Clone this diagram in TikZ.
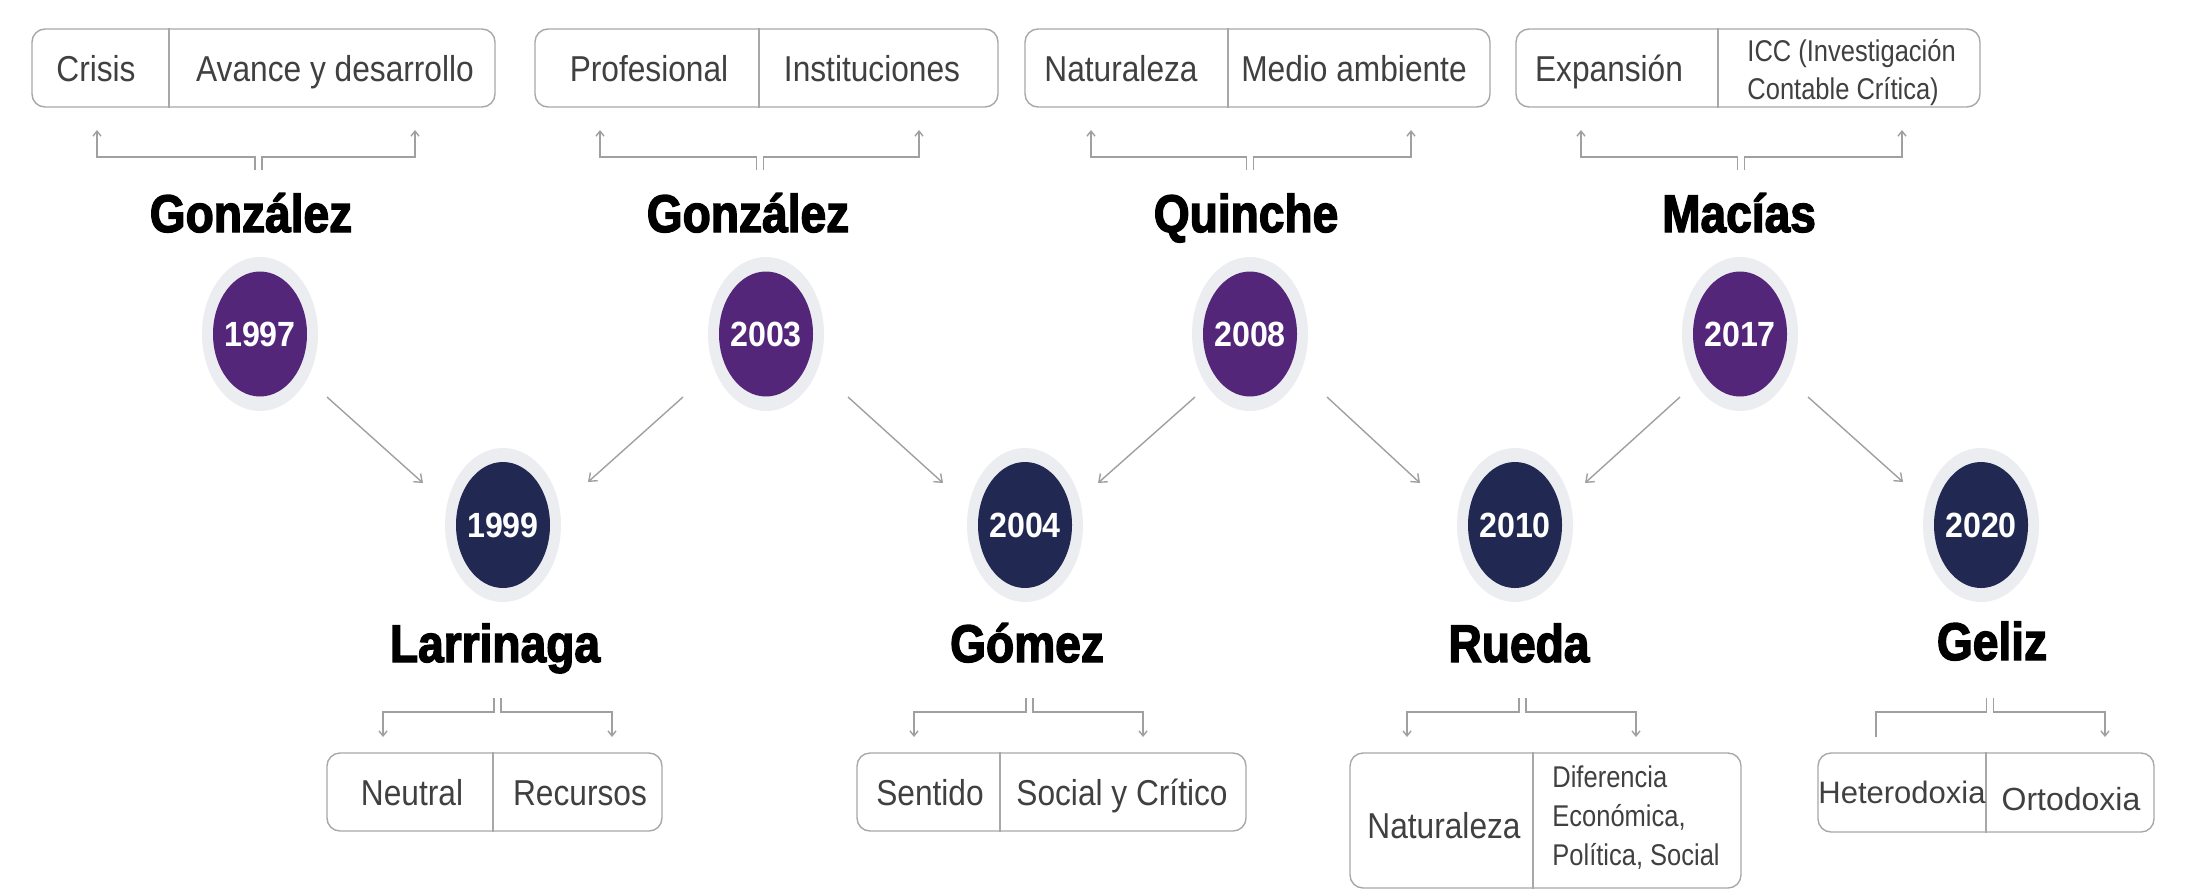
\documentclass[tikz,border=0pt]{standalone}
\usepackage{fontspec}
\setmainfont{Liberation Sans}
\newfontfamily\boxfont[FakeStretch=0.88]{Liberation Sans}
\newfontfamily\smallfont[FakeStretch=0.85]{Liberation Sans}
\newfontfamily\namefont[FakeStretch=0.87,FakeBold=2.5]{Liberation Sans}
\newfontfamily\yearfont[FakeStretch=0.92]{Liberation Sans}
\usetikzlibrary{shapes.geometric,arrows.meta,calc}
\definecolor{tlpurple}{HTML}{54267A}
\definecolor{tlnavy}{HTML}{212952}
\definecolor{halogray}{HTML}{ECEDF0}
\definecolor{cardgray}{HTML}{A8A8A8}
\definecolor{txtgray}{HTML}{404040}
\definecolor{arrgray}{HTML}{A0A0A0}
\begin{document}
\begin{tikzpicture}[x=0.5pt,y=-0.5pt,
  halo/.style={ellipse, fill=halogray, minimum width=58pt, minimum height=77pt, inner sep=0pt},
  topdot/.style={ellipse, fill=tlpurple, minimum width=47pt, minimum height=62.5pt, inner sep=0pt},
  botdot/.style={ellipse, fill=tlnavy, minimum width=47pt, minimum height=63pt, inner sep=0pt},
  yr/.style={text=white, font={\yearfont\bfseries\fontsize{17.5}{20}\selectfont}, inner sep=0pt},
  authname/.style={anchor=base, inner sep=0pt, font={\namefont\bfseries\fontsize{26.5}{30}\selectfont}},
  card/.style={draw=cardgray, line width=0.7pt, rounded corners=6.5pt, inner sep=0pt},
  divider/.style={draw=cardgray, line width=0.7pt},
  cell/.style={anchor=base, inner sep=0pt, text=txtgray, font={\boxfont\fontsize{18}{22}\selectfont}},
  multicell/.style={anchor=north west, inner sep=0pt, align=left, text=txtgray},
  conn/.style={draw=arrgray, line width=0.7pt, -{Straight Barb[length=3.5pt,width=5.5pt]}},
  brk/.style={draw=arrgray, line width=0.7pt, -{Straight Barb[length=2.5pt,width=4pt]}},
  brkplain/.style={draw=arrgray, line width=0.7pt}
]
\fill[white] (0,0) rectangle (2188,895);
\useasboundingbox (0,0) rectangle (2188,895);

% ---------- year ellipses ----------
\foreach \nm/\xx in {1997/260, 2003/766, 2008/1250, 2017/1740}{
  \node[halo] (h\nm) at (\xx,334) {};
  \node[topdot] (c\nm) at (\xx,334) {};
  \node[yr] (y\nm) at (c\nm) {\nm};
}
\foreach \nm/\xx in {1999/503, 2004/1025, 2010/1515, 2020/1981}{
  \node[halo] (h\nm) at (\xx,525) {};
  \node[botdot] (c\nm) at (\xx,525) {};
  \node[yr] (y\nm) at (c\nm) {\nm};
}

% ---------- names ----------
\node[authname] (n1) at (251,232) {González};
\node[authname] (n2) at (748,232) {González};
\node[authname] (n3) at (1246,232) {Quinche};
\node[authname] (n4) at (1739,232) {Macías};
\node[authname] (n5) at (495,662) {Larrinaga};
\node[authname] (n6) at (1027,662) {Gómez};
\node[authname] (n7) at (1519,662) {Rueda};
\node[authname] (n8) at (1992,660) {Geliz};

% ---------- cards (top) ----------
\node[card, minimum width=231.5pt, minimum height=39pt] (b1) at (263.5,68) {};
\node[card, minimum width=231.5pt, minimum height=39pt] (b2) at (766.5,68) {};
\node[card, minimum width=232.5pt, minimum height=39pt] (b3) at (1257.5,68) {};
\node[card, minimum width=232pt, minimum height=39pt] (b4) at (1748,68) {};
\draw[divider] ($(b1.north)+(-94.5,0)$) -- ($(b1.south)+(-94.5,0)$);
\draw[divider] ($(b2.north)+(-7.5,0)$) -- ($(b2.south)+(-7.5,0)$);
\draw[divider] ($(b3.north)+(-29.5,0)$) -- ($(b3.south)+(-29.5,0)$);
\draw[divider] ($(b4.north)+(-30,0)$) -- ($(b4.south)+(-30,0)$);

\node[cell] (t1a) at (96,81.5) {Crisis};
\node[cell] (t1b) at (335,81.5) {Avance y desarrollo};
\node[cell] (t2a) at (649,81.5) {Profesional};
\node[cell] (t2b) at (872,81.5) {Instituciones};
\node[cell] (t3a) at (1121,81.5) {Naturaleza};
\node[cell] (t3b) at (1354,81.5) {Medio ambiente};
\node[cell] (t4a) at (1609,81.5) {Expansión};
\node[multicell, font={\smallfont\fontsize{15}{19}\selectfont}] (t4b) at (1747,39) {ICC (Investigación\\Contable Crítica)};

% ---------- cards (bottom) ----------
\node[card, minimum width=167.5pt, minimum height=39pt] (b5) at (494.5,792) {};
\node[card, minimum width=194.5pt, minimum height=39pt] (b6) at (1051.5,792) {};
\node[card, minimum width=195.5pt, minimum height=67.5pt] (b7) at (1545.5,820.5) {};
\node[card, minimum width=168pt, minimum height=39.5pt] (b8) at (1986,792.5) {};
\draw[divider] ($(b5.north)+(-1.5,0)$) -- ($(b5.south)+(-1.5,0)$);
\draw[divider] ($(b6.north)+(-51.5,0)$) -- ($(b6.south)+(-51.5,0)$);
\draw[divider] ($(b7.north)+(-12.5,0)$) -- ($(b7.south)+(-12.5,0)$);
\draw[divider] (b8.north) -- (b8.south);

\node[cell] (t5a) at (412,805.5) {Neutral};
\node[cell] (t5b) at (580,805.5) {Recursos};
\node[cell] (t6a) at (930,805.5) {Sentido};
\node[cell] (t6b) at (1122,805.5) {Social y Crítico};
\node[cell] (t7a) at (1444,838) {Naturaleza};
\node[multicell, font={\smallfont\fontsize{15}{19.5}\selectfont}] (t7b) at (1552,765) {Diferencia\\Económica,\\Política, Social};
\node[cell, font={\fontsize{15.5}{18}\selectfont}] (t8a) at (1902,803) {Heterodoxia};
\node[cell, font={\fontsize{16}{19}\selectfont}] (t8b) at (2071,810) {Ortodoxia};

% ---------- bracket connectors ----------
\coordinate (j1) at (258.5,170); \coordinate (j1a) at (97,130);  \coordinate (j1b) at (415,130);
\coordinate (j2) at (760,170);   \coordinate (j2a) at (600,130); \coordinate (j2b) at (919,130);
\coordinate (j3) at (1250,170);  \coordinate (j3a) at (1091,130); \coordinate (j3b) at (1411,130);
\coordinate (j4) at (1741,170);  \coordinate (j4a) at (1581,130); \coordinate (j4b) at (1902,130);
\foreach \k in {1,2,3,4}{
  \draw[brk] ($(j\k)+(-3.5,0)$) -- ++(0,-13) -| (j\k a);
  \draw[brk] ($(j\k)+(3.5,0)$) -- ++(0,-13) -| (j\k b);
}
\coordinate (j5) at (497.5,698);  \coordinate (j5a) at (383,737);  \coordinate (j5b) at (612,737);
\coordinate (j6) at (1029.5,698); \coordinate (j6a) at (914,737);  \coordinate (j6b) at (1143,737);
\coordinate (j7) at (1522.5,698); \coordinate (j7a) at (1407,737); \coordinate (j7b) at (1636,737);
\coordinate (j8) at (1990,698);   \coordinate (j8a) at (1876,737); \coordinate (j8b) at (2105,737);
\foreach \k in {5,6,7}{
  \draw[brk] ($(j\k)+(-3.5,0)$) -- ++(0,14) -| (j\k a);
  \draw[brk] ($(j\k)+(3.5,0)$) -- ++(0,14) -| (j\k b);
}
\draw[brkplain] ($(j8)+(-3.5,0)$) -- ++(0,14) -| (j8a);
\draw[brk] ($(j8)+(3.5,0)$) -- ++(0,14) -| (j8b);

% ---------- diagonal connectors ----------
\draw[conn] ($(c1997)+(67,63)$) -- ($(c1999)+(-80,-42)$);
\draw[conn] ($(c2003)+(-83,63)$) -- ($(c1999)+(85,-43)$);
\draw[conn] ($(c2003)+(82,63)$) -- ($(c2004)+(-82,-42)$);
\draw[conn] ($(c2008)+(-55,63)$) -- ($(c2004)+(73,-42)$);
\draw[conn] ($(c2008)+(77,63)$) -- ($(c2010)+(-95,-42)$);
\draw[conn] ($(c2017)+(-60,63)$) -- ($(c2010)+(70,-42)$);
\draw[conn] ($(c2017)+(68,63)$) -- ($(c2020)+(-78,-43)$);
\end{tikzpicture}
\end{document}
